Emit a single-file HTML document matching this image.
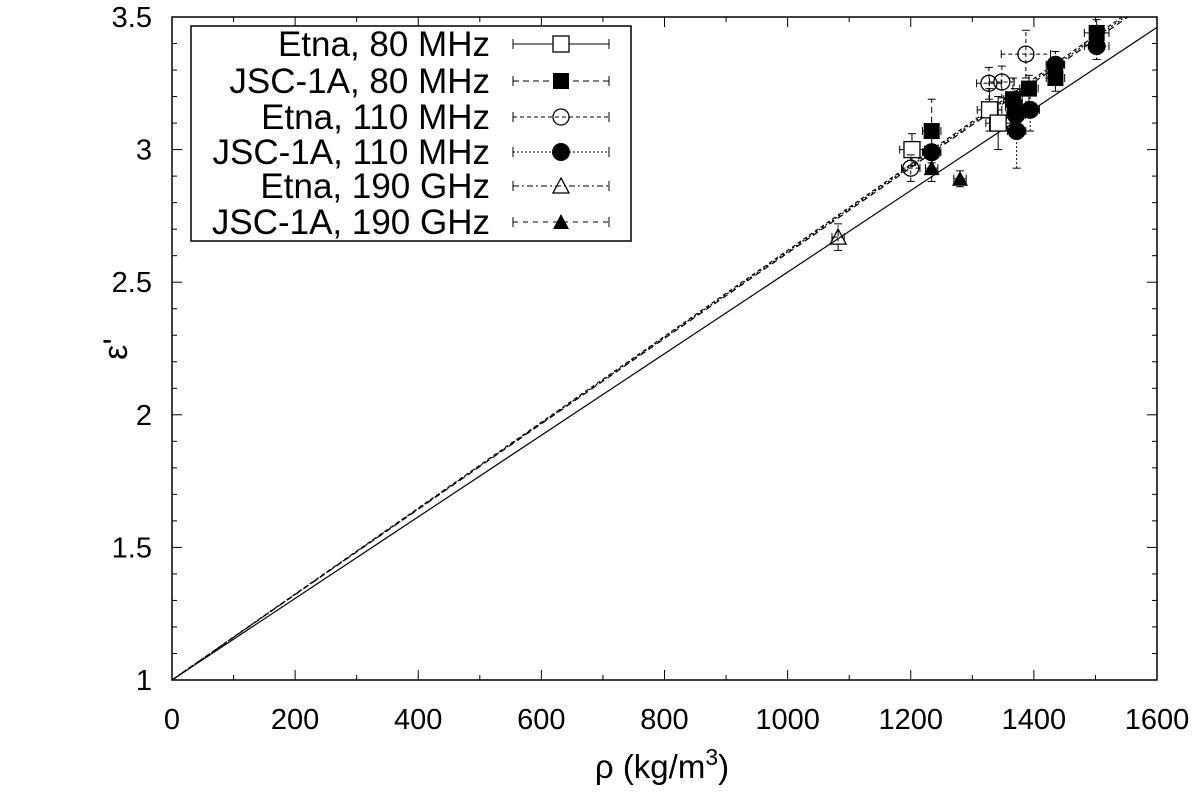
<!DOCTYPE html>
<html><head><meta charset="utf-8"><style>
body{margin:0;background:#fff}
svg{font-family:"Liberation Sans",sans-serif}
</style></head><body>
<svg id="chart" width="1200" height="795" xmlns="http://www.w3.org/2000/svg"></svg>
<script>
const etna80 = [[1202,3.00,20,0.06],[1328,3.15,20,0.08],[1342,3.10,20,0.10]];
const jsc80 = [[1234,3.07,15,0.12],[1366,3.19,15,0.08],[1369,3.16,15,0.07],[1392,3.23,15,0.05],[1435,3.27,15,0.05],[1502,3.44,20,0.05]];
const etna110 = [[1200,2.93,15,0.05],[1327,3.25,20,0.06],[1348,3.255,20,0.06],[1387,3.36,40,0.09]];
const jsc110 = [[1234,2.99,15,0.06],[1372,3.07,15,0.14],[1371,3.13,15,0.08],[1394,3.15,15,0.08],[1435,3.32,15,0.05],[1502,3.39,20,0.05]];
const etna190 = [[1082,2.67,10,0.05]];
const jsc190 = [[1234,2.93,10,0.05],[1280,2.89,10,0.03]];
const fitSlopes = [0.001538,0.001610,0.001620,0.001615];
const xTicks = [0,200,400,600,800,1000,1200,1400,1600];
const yTicks = [1,1.5,2,2.5,3,3.5];
const legendLabels = ["Etna, 80 MHz","JSC-1A, 80 MHz","Etna, 110 MHz","JSC-1A, 110 MHz","Etna, 190 GHz","JSC-1A, 190 GHz"];

const L=172,R=1157,T=17,B=680;
const X=v=>L+(v-0)/1600*(R-L);
const Y=v=>B-(v-1)/2.5*(B-T);
const svg=document.getElementById('chart');
const NS='http://www.w3.org/2000/svg';
function mk(tag,attrs,parent){const e=document.createElementNS(NS,tag);for(const k in attrs)e.setAttribute(k,attrs[k]);(parent||svg).appendChild(e);return e;}

const defs=mk('defs',{});const cp=mk('clipPath',{id:'pc'},defs);mk('rect',{x:L,y:T,width:R-L,height:B-T},cp);

const ax=mk('g',{stroke:'#000','stroke-width':1});


for(let v=0;v<=1600;v+=100){const x=X(v),len=v%200===0?10:5;
 mk('line',{x1:x,y1:B,x2:x,y2:B-len},ax);mk('line',{x1:x,y1:T,x2:x,y2:T+len},ax);}
for(let i=0;i<=25;i++){const v=1+i*0.1,y=Y(v),len=i%5===0?10:5;
 mk('line',{x1:L,y1:y,x2:L+len,y2:y},ax);mk('line',{x1:R,y1:y,x2:R-len,y2:y},ax);}
xTicks.forEach(v=>{const t=mk('text',{x:X(v),y:B+49,'font-size':29,'text-anchor':'middle'});t.textContent=v;
 
 });
yTicks.forEach(v=>{const t=mk('text',{x:L-20,y:Y(v)+10,'font-size':29,'text-anchor':'end'});t.textContent=v;
 
 });

const dashes=['none','6,4','4,3','2,2'];
fitSlopes.forEach((s,i)=>{const xe=Math.min(1600,2.5/s);
 const l=mk('line',{x1:X(0),y1:Y(1),x2:X(xe),y2:Y(1+s*xe),stroke:'#000','stroke-width':1.2,'stroke-dasharray':dashes[i],'clip-path':'url(#pc)'});
 
 });

function marker(g,type,cx,cy){const s=8;
 if(type==='sq')mk('rect',{x:cx-s,y:cy-s,width:2*s,height:2*s,fill:'#fff',stroke:'#000','stroke-width':1.3},g);
 if(type==='fsq')mk('rect',{x:cx-s,y:cy-s,width:2*s,height:2*s,fill:'#000'},g);
 if(type==='ci')mk('circle',{cx,cy,r:s,fill:'none',stroke:'#000','stroke-width':1.3},g);
 if(type==='fci')mk('circle',{cx,cy,r:s+1,fill:'#000'},g);
 if(type==='tr')mk('polygon',{points:`${cx},${cy-s} ${cx-s},${cy+s-1} ${cx+s},${cy+s-1}`,fill:'none',stroke:'#000','stroke-width':1.3},g);
 if(type==='ftr')mk('polygon',{points:`${cx},${cy-s} ${cx-s},${cy+s-1} ${cx+s},${cy+s-1}`,fill:'#000'},g);}
const series=[[etna80,'sq','none','etna-80mhz'],[jsc80,'fsq','6,4','jsc-80mhz'],[etna110,'ci','4,3','etna-110mhz'],[jsc110,'fci','2,2','jsc-110mhz'],[etna190,'tr','6,3,2,3','etna-190ghz'],[jsc190,'ftr','5,5','jsc-190ghz']];
series.forEach(([data,type,dash,name])=>{
 const g=mk('g',{});
 
 
 data.forEach(([px,py,ex,ey])=>{const cx=X(px),cy=Y(py),x1=X(px-ex),x2=X(px+ex),y1=Y(py-ey),y2=Y(py+ey);
  const e={stroke:'#000','stroke-width':1,'stroke-dasharray':dash};
  mk('line',Object.assign({x1,y1:cy,x2,y2:cy},e),g);mk('line',Object.assign({x1:cx,y1,x2:cx,y2},e),g);
  mk('line',{x1,y1:cy-4,x2:x1,y2:cy+4,stroke:'#000'},g);mk('line',{x1:x2,y1:cy-4,x2:x2,y2:cy+4,stroke:'#000'},g);
  mk('line',{x1:cx-4,y1,x2:cx+4,y2:y1,stroke:'#000'},g);mk('line',{x1:cx-4,y1:y2,x2:cx+4,y2:y2,stroke:'#000'},g);
  marker(g,type,cx,cy);});});

const fr=mk('rect',{x:L,y:T,width:R-L,height:B-T,fill:'none',stroke:'#000','stroke-width':1.5});



const lg=mk('g',{});


mk('rect',{x:191,y:26,width:440,height:215,fill:'#fff',stroke:'#000','stroke-width':1.5},lg);
const rows=[44,81,117,152,186,222];
legendLabels.forEach((lab,i)=>{const y=rows[i];
 const t=mk('text',{x:490,y:y+12,'font-size':35,'text-anchor':'end'},lg);t.textContent=lab;
 
 
 mk('line',{x1:513,y1:y,x2:609,y2:y,stroke:'#000','stroke-width':1,'stroke-dasharray':series[i][2]},lg);
 mk('line',{x1:513,y1:y-5,x2:513,y2:y+5,stroke:'#000'},lg);mk('line',{x1:609,y1:y-5,x2:609,y2:y+5,stroke:'#000'},lg);
 marker(lg,series[i][1],561,y);});

const xt=mk('text',{x:662,y:778,'font-size':33,'text-anchor':'middle'});
xt.innerHTML='ρ (kg/m<tspan dy="-13" font-size="23">3</tspan><tspan dy="13">)</tspan>';


const yt=mk('text',{x:0,y:0,'font-size':34,'text-anchor':'middle',transform:'translate(127,349) rotate(-90)'});
yt.textContent="ε'";


</script>
</body></html>
